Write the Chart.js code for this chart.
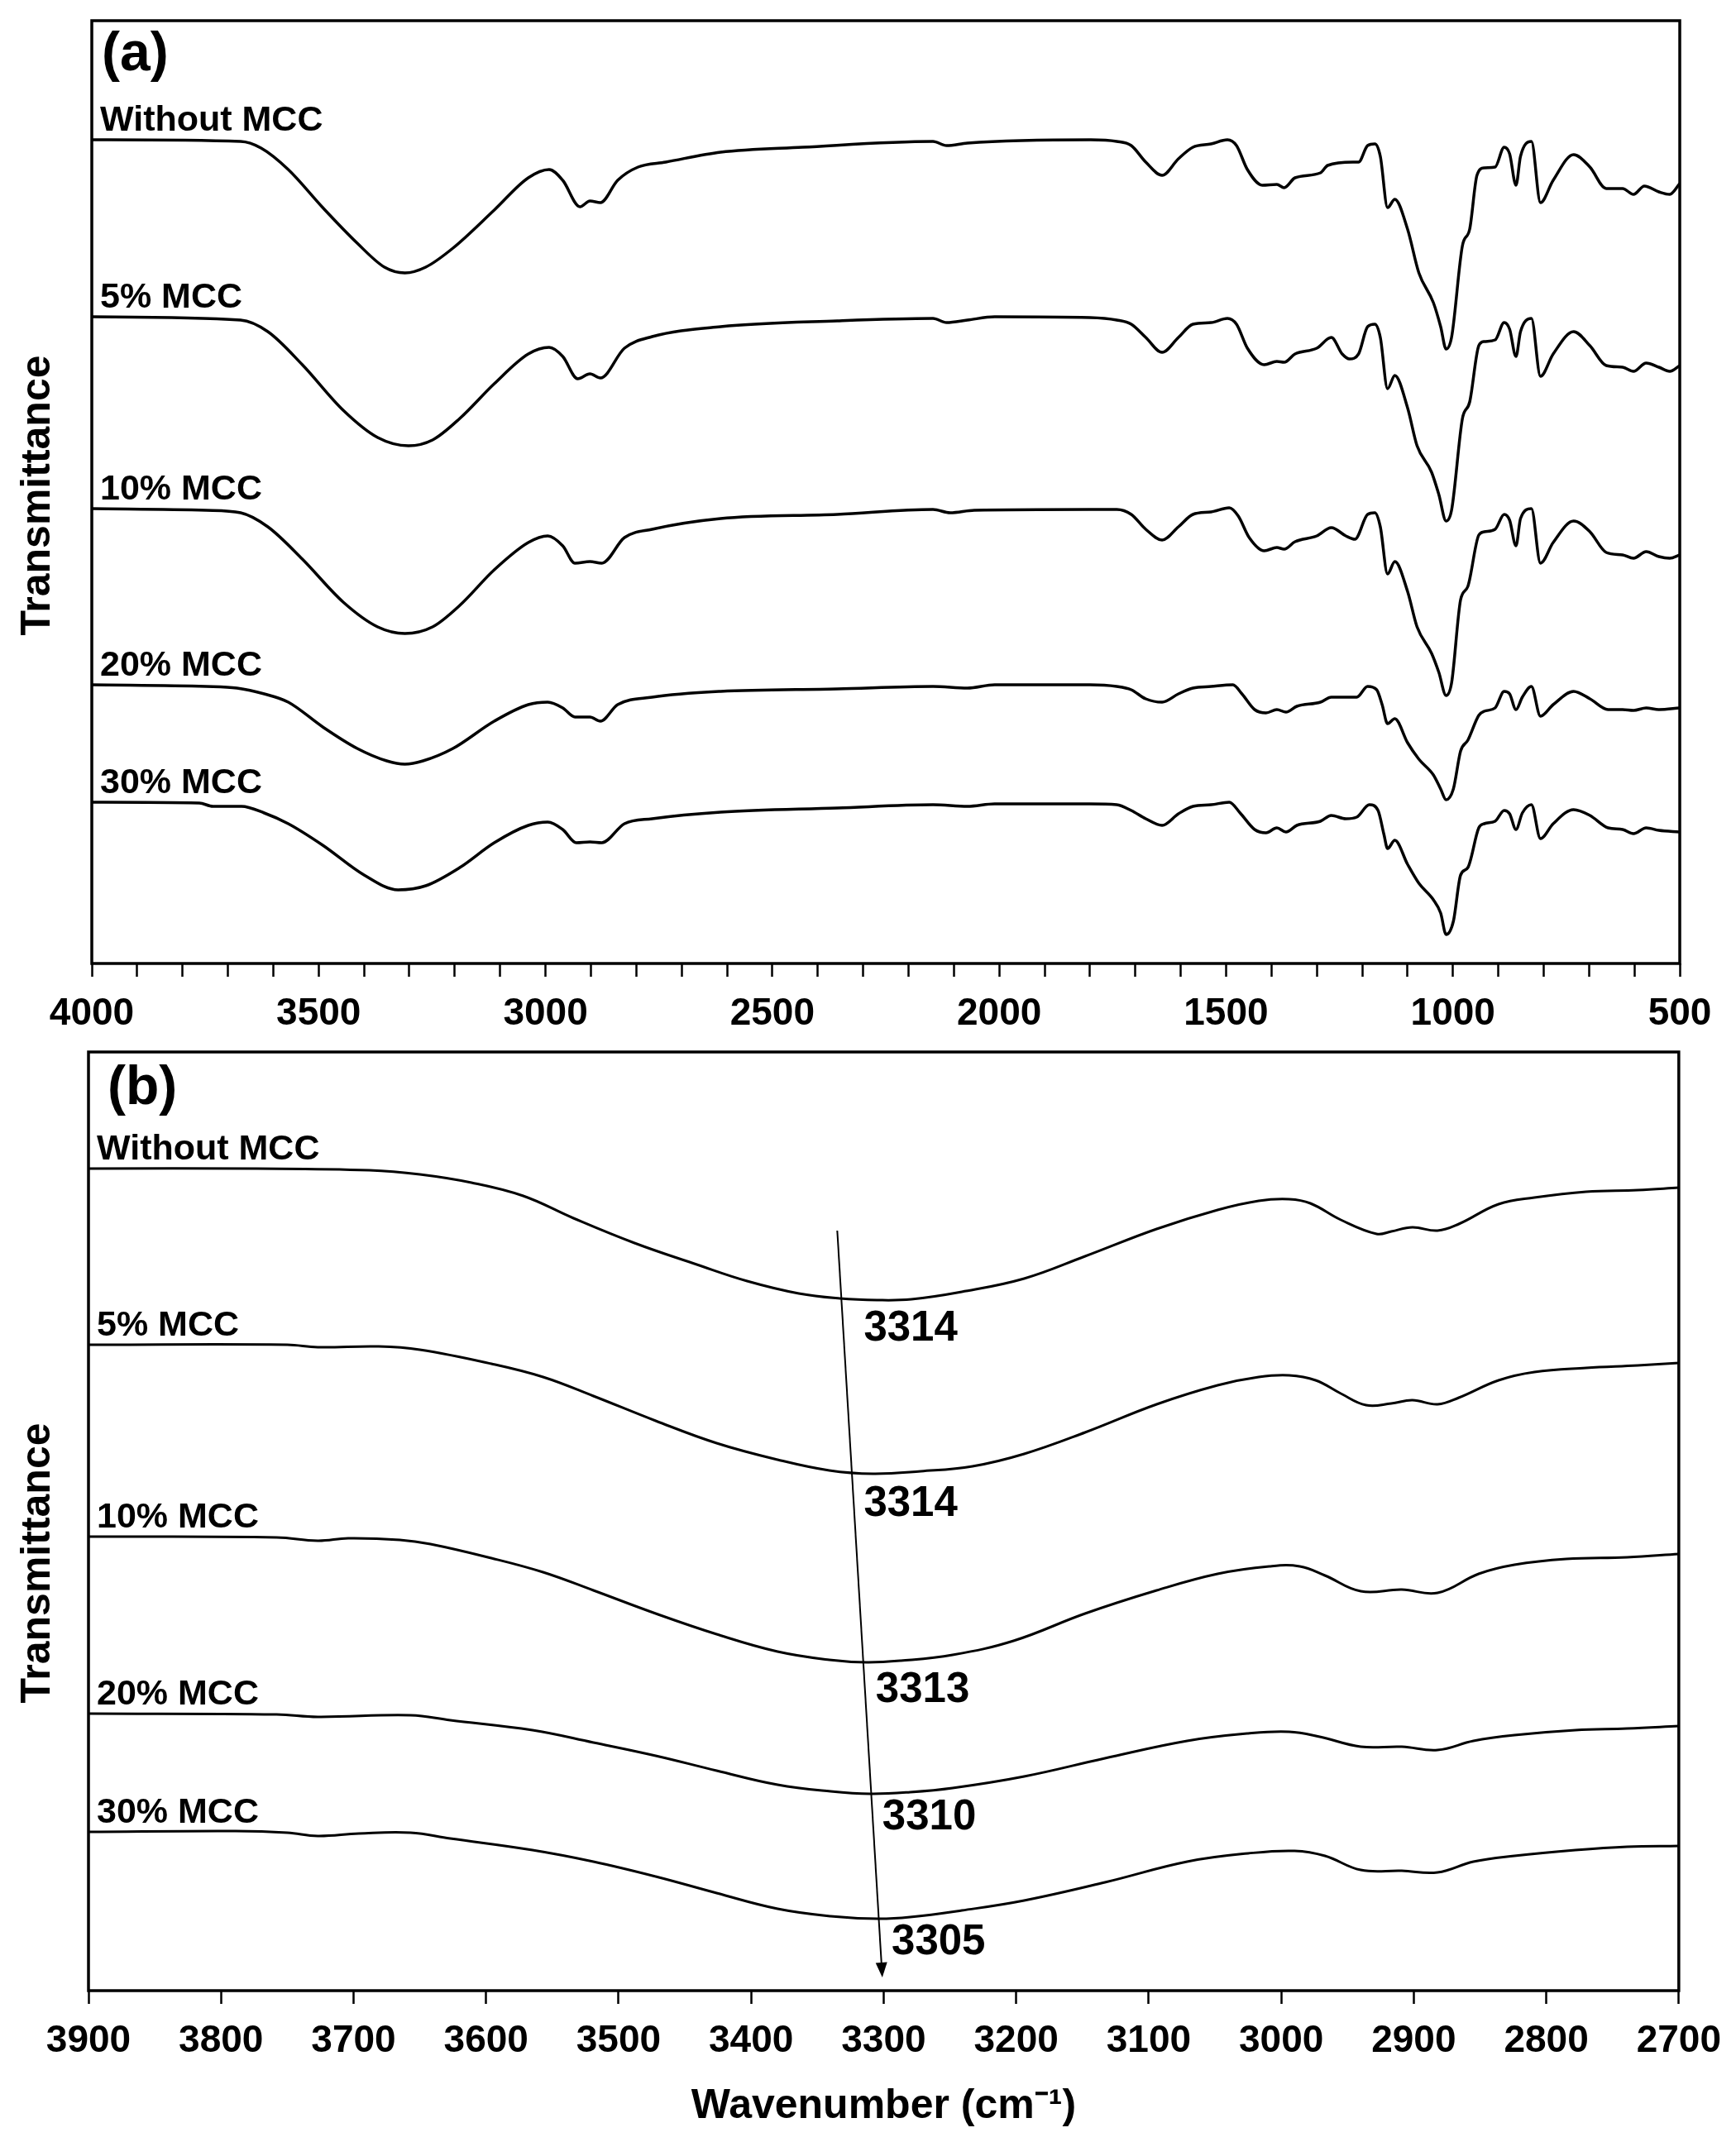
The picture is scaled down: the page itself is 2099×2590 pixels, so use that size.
<!DOCTYPE html>
<html>
<head>
<meta charset="utf-8">
<script src="https://cdn.jsdelivr.net/npm/chart.js@4.4.1/dist/chart.umd.min.js"></script>
<style>
body{margin:0;background:#fff;}
#wrap{position:relative;width:2099px;height:2590px;background:#fff;}
canvas{position:absolute;left:0;}
</style>
</head>
<body>
<div id="wrap">
<canvas id="chartA" width="2099" height="1260" style="top:0px"></canvas>
<canvas id="chartB" width="2099" height="1330" style="top:1260px"></canvas>
</div>
<script>
'use strict';

// sample names, top to bottom
let sampleNames=['Without MCC','5% MCC','10% MCC','20% MCC','30% MCC']

// panel (a): [wavenumber, transmittance a.u.]
let specA0=[[4000,99.6],[3672,99.4],[3627,98.6],[3567,96.0],[3491,91.4],[3415,87.1],[3355,84.2],[3310,83.5],[3264,84.2],[3204,86.5],[3113,91.1],[3038,95.0],[2992,96.0],[2962,94.7],[2924,91.5],[2902,92.2],[2879,92.0],[2841,94.7],[2796,96.3],[2735,96.9],[2614,98.1],[2433,98.7],[2146,99.4],[2116,98.9],[2070,99.2],[1798,99.6],
[1741,99.4],[1709,98.9],[1677,96.9],[1641,95.3],[1605,97.3],[1573,98.7],[1533,99.1],[1497,99.6],[1477,98.9],[1453,96.0],[1420,94.1],[1388,94.2],[1372,93.8],[1348,95.0],[1292,95.6],[1276,96.5],[1220,96.9],[1208,96.9],[1188,98.9],[1172,99.1],[1160,97.6],[1144,91.4],[1128,92.4],[1100,88.8],[1075,83.5],[1043,79.9],[1027,77.0],[1015,74.3],[1003,75.7],[979,86.8],[963,88.8],[947,95.3],[931,96.2],[907,96.3],[887,98.7],[875,97.9],[861,94.1],[851,97.6],[827,99.4],[807,92.0],[779,94.7],[734,97.8],[698,96.3],[662,93.7],[626,93.7],[602,93.0],[578,94.0],[546,93.3],[522,93.0],[500,94.3]]
let specA5=[[4000,78.2],[3672,77.8],[3612,76.4],[3536,72.4],[3446,66.9],[3370,63.6],[3302,62.6],[3249,63.3],[3189,65.9],[3113,70.1],[3038,73.7],[2992,74.5],[2962,73.4],[2929,70.7],[2902,71.3],[2879,70.8],[2826,74.4],[2765,75.8],[2614,77.0],[2357,77.7],[2146,78.0],[2116,77.5],[2070,77.8],[2010,78.2],[1800,78.1],
[1741,77.8],[1709,77.3],[1677,75.7],[1641,73.9],[1605,75.7],[1573,77.3],[1533,77.5],[1497,78.0],[1477,77.3],[1453,74.4],[1416,72.4],[1388,72.8],[1372,72.7],[1348,73.7],[1300,74.4],[1268,75.7],[1244,73.7],[1228,73.1],[1208,73.7],[1188,77.0],[1172,77.3],[1160,75.7],[1144,69.5],[1128,71.1],[1100,67.2],[1079,62.6],[1047,59.4],[1031,56.7],[1015,53.5],[1003,54.8],[979,65.9],[963,67.9],[943,74.7],[931,75.2],[907,75.4],[887,77.5],[875,76.7],[861,73.4],[851,76.4],[827,78.0],[807,71.0],[779,73.7],[734,76.4],[698,74.7],[662,72.3],[626,72.1],[602,71.6],[574,72.6],[546,72.1],[522,71.6],[500,72.3]]
let specA10=[[4000,55.0],[3748,54.8],[3672,54.5],[3612,52.8],[3536,48.9],[3446,43.7],[3370,40.7],[3310,39.9],[3249,40.7],[3189,43.3],[3113,47.6],[3038,50.9],[2995,51.7],[2962,50.5],[2935,48.4],[2902,48.6],[2876,48.4],[2826,51.5],[2765,52.5],[2614,53.8],[2357,54.3],[2146,54.9],[2108,54.5],[2055,54.8],[1800,54.9],
[1741,54.9],[1709,54.3],[1677,52.5],[1641,51.2],[1605,52.8],[1573,54.3],[1533,54.6],[1493,55.1],[1473,54.1],[1449,51.5],[1416,49.9],[1388,50.3],[1372,50.1],[1348,51.0],[1300,51.7],[1268,52.7],[1236,51.7],[1216,51.3],[1188,54.3],[1172,54.5],[1160,52.8],[1144,47.1],[1128,48.6],[1100,45.0],[1079,40.7],[1047,37.5],[1031,35.2],[1015,32.4],[1003,33.9],[983,44.0],[967,45.6],[943,51.8],[931,52.2],[907,52.5],[887,54.3],[875,53.6],[861,50.5],[851,53.8],[827,55.0],[807,48.4],[779,50.9],[734,53.5],[698,52.2],[662,49.7],[626,49.4],[602,49.0],[574,49.8],[546,49.2],[522,49.0],[500,49.4]]
let specA20=[[4000,33.7],[3748,33.5],[3680,33.3],[3620,32.6],[3567,31.6],[3491,28.6],[3415,26.0],[3350,24.5],[3310,24.1],[3270,24.5],[3204,26.0],[3113,29.3],[3038,31.3],[2995,31.6],[2962,30.9],[2935,29.8],[2902,29.8],[2879,29.3],[2841,31.3],[2765,32.2],[2614,32.9],[2357,33.2],[2146,33.5],[2070,33.3],[2010,33.7],[1800,33.7],
[1741,33.5],[1709,33.1],[1677,32.0],[1641,31.6],[1605,32.6],[1573,33.3],[1533,33.5],[1485,33.7],[1465,32.6],[1437,30.7],[1412,30.3],[1388,30.7],[1368,30.4],[1344,31.1],[1292,31.6],[1268,32.2],[1236,32.2],[1212,32.2],[1188,33.5],[1168,33.1],[1156,31.3],[1144,29.0],[1128,29.6],[1100,26.7],[1075,24.7],[1043,22.8],[1027,21.1],[1015,19.8],[999,21.1],[983,25.7],[967,27.0],[943,30.0],[931,30.5],[907,30.9],[887,32.9],[875,32.6],[861,30.7],[847,32.2],[827,33.5],[807,29.9],[779,31.3],[734,32.9],[698,32.0],[658,30.7],[626,30.7],[602,30.6],[574,30.9],[546,30.7],[500,30.9]]
let specA30=[[4000,19.5],[3763,19.4],[3733,19.0],[3670,19.0],[3620,18.2],[3567,16.9],[3491,14.3],[3400,10.7],[3325,8.9],[3264,9.4],[3189,11.6],[3113,14.6],[3038,16.7],[2995,17.1],[2962,16.2],[2932,14.6],[2902,14.7],[2876,14.6],[2826,16.9],[2765,17.5],[2614,18.3],[2357,18.8],[2146,19.2],[2070,19.0],[2010,19.3],[1800,19.3],
[1741,19.2],[1709,18.5],[1677,17.5],[1641,16.7],[1605,18.1],[1573,19.0],[1533,19.2],[1493,19.5],[1469,18.2],[1437,16.2],[1412,15.8],[1388,16.4],[1368,15.9],[1344,16.7],[1292,17.2],[1268,17.9],[1236,17.5],[1212,17.7],[1184,19.2],[1165,18.5],[1152,15.6],[1144,13.9],[1128,14.9],[1100,12.0],[1075,9.7],[1043,7.7],[1027,6.1],[1015,3.5],[999,5.1],[983,10.7],[967,11.6],[943,16.4],[931,16.9],[907,17.2],[887,18.5],[875,18.1],[861,16.2],[847,18.2],[827,19.2],[807,15.1],[779,16.9],[734,18.6],[698,17.9],[658,16.4],[626,16.2],[602,15.7],[574,16.4],[546,16.1],[500,15.9]]

// panel (b): O-H region
let specB0=[[3900,99.4],[3773,99.4],[3688,99.2],[3650,98.7],[3611,97.7],[3572,96.1],[3534,93.4],[3488,90.4],[3441,87.8],[3403,85.8],[3364,84.3],[3333,83.7],[3305,83.5],[3279,83.6],[3241,84.5],[3194,86.1],[3148,88.8],[3094,92.1],[3048,94.4],[3017,95.5],[2994,95.7],[2978,95.2],[2955,93.2],[2928,91.5],[2917,91.8],[2901,92.3],[2882,91.9],[2866,92.7],[2836,95.1],[2809,95.9],[2770,96.6],[2731,96.8],[2700,97.1]]
let specB5=[[3900,78.1],[3750,78.1],[3727,77.8],[3681,77.9],[3650,77.5],[3596,75.8],[3557,74.2],[3519,71.9],[3472,68.9],[3426,66.2],[3380,64.2],[3341,62.9],[3308,62.5],[3272,62.8],[3233,63.4],[3194,64.9],[3148,67.5],[3094,70.9],[3048,73.2],[3017,74.2],[2994,74.4],[2974,73.8],[2955,72.2],[2936,70.8],[2917,71.0],[2901,71.4],[2882,70.9],[2866,71.7],[2836,73.8],[2809,74.8],[2770,75.3],[2731,75.6],[2700,75.9]]
let specB10=[[3900,54.9],[3758,54.8],[3727,54.4],[3704,54.7],[3665,54.5],[3642,54.0],[3596,52.3],[3557,50.6],[3519,48.4],[3472,45.6],[3426,43.1],[3380,41.0],[3341,40.0],[3313,39.7],[3287,39.9],[3248,40.6],[3202,42.3],[3148,45.6],[3094,48.4],[3048,50.4],[3009,51.3],[2986,51.3],[2967,50.2],[2940,48.3],[2909,48.5],[2882,48.1],[2851,50.4],[2824,51.5],[2785,52.2],[2739,52.4],[2700,52.8]]
let specB20=[[3900,33.5],[3758,33.4],[3727,33.1],[3657,33.3],[3627,32.7],[3565,31.5],[3519,30.0],[3472,28.4],[3426,26.6],[3380,24.9],[3340,24.1],[3310,23.8],[3280,24.0],[3248,24.5],[3194,25.9],[3133,28.1],[3071,30.2],[3025,31.1],[2994,31.3],[2971,30.7],[2940,29.5],[2909,29.5],[2882,29.1],[2855,30.2],[2824,30.9],[2778,31.5],[2739,31.7],[2700,32.0]]
let specB30=[[3900,19.2],[3789,19.3],[3750,19.1],[3727,18.7],[3696,19.0],[3657,19.1],[3627,18.4],[3565,17.0],[3519,15.6],[3472,13.8],[3426,11.8],[3380,9.9],[3340,9.0],[3305,8.7],[3280,8.9],[3241,9.7],[3194,10.9],[3133,13.1],[3071,15.6],[3025,16.6],[2990,16.9],[2967,16.3],[2940,14.6],[2909,14.5],[2882,14.3],[2855,15.6],[2824,16.3],[2778,17.0],[2739,17.4],[2700,17.5]]

// O-H band minima marked in (b)
let peakText=['3314','3314','3313','3310','3305']
let peakWn=[3315,3315,3306,3301,3294]
let peakT=[80.0,58.8,36.3,20.9,5.8]
let arrowFrom=[3335,91.9]
let arrowTo=[3301,1.6]

let fontFam="'Liberation Sans', Arial, Helvetica, sans-serif"

function toPts(arr)
{
    return arr.map(p => ({x:p[0], y:p[1]}))
}

function makeSets(list,width,smooth)
{
    let sets=[]
    for(let i=0;i<list.length;i++)
    {
        let s={
            label:sampleNames[i],
            data:toPts(list[i]),
            borderColor:'#000',
            borderWidth:width,
            pointRadius:0,
            fill:false
        }
        if(smooth) s.tension=0.4
        else s.cubicInterpolationMode='monotone'
        sets.push(s)
    }
    return sets
}

let decor={
    id:'decor',
    afterDraw(chart,args,opts)
    {
        let ctx=chart.ctx
        let area=chart.chartArea
        let xs=chart.scales.x
        let ys=chart.scales.y
        ctx.save()
        ctx.strokeStyle='#000'
        ctx.lineWidth=3.5
        ctx.strokeRect(area.left,area.top,area.right-area.left,area.bottom-area.top)

        ctx.fillStyle='#000'
        ctx.textAlign='left'
        ctx.textBaseline='alphabetic'
        ctx.font='bold 66px '+fontFam
        ctx.fillText(opts.letter,area.left+opts.letterDx,area.top+opts.letterDy)

        ctx.font='bold 43px '+fontFam
        let sets=chart.data.datasets
        for(let i=0;i<sets.length;i++)
        {
            let y0=sets[i].data[0].y
            ctx.fillText(sets[i].label,area.left+10,ys.getPixelForValue(y0)-11)
        }

        ctx.save()
        ctx.translate(46,opts.titleY)
        ctx.rotate(-Math.PI/2)
        ctx.textAlign='center'
        ctx.textBaseline='middle'
        ctx.font='bold 50px '+fontFam
        ctx.fillText('Transmittance',0,0)
        ctx.restore()

        if(opts.peaks)
        {
            ctx.font='bold 51px '+fontFam
            ctx.textBaseline='middle'
            for(let i=0;i<peakText.length;i++)
            {
                ctx.fillText(peakText[i],xs.getPixelForValue(peakWn[i]),ys.getPixelForValue(peakT[i]))
            }
            let x1=xs.getPixelForValue(arrowFrom[0]), y1=ys.getPixelForValue(arrowFrom[1])
            let x2=xs.getPixelForValue(arrowTo[0]), y2=ys.getPixelForValue(arrowTo[1])
            let ang=Math.atan2(y2-y1,x2-x1)
            let head=18
            ctx.lineWidth=2
            ctx.beginPath()
            ctx.moveTo(x1,y1)
            ctx.lineTo(x2-Math.cos(ang)*head,y2-Math.sin(ang)*head)
            ctx.stroke()
            ctx.beginPath()
            ctx.moveTo(x2,y2)
            ctx.lineTo(x2-Math.cos(ang)*head+Math.sin(ang)*7,y2-Math.sin(ang)*head-Math.cos(ang)*7)
            ctx.lineTo(x2-Math.cos(ang)*head-Math.sin(ang)*7,y2-Math.sin(ang)*head+Math.cos(ang)*7)
            ctx.closePath()
            ctx.fill()
        }
        ctx.restore()
    }
}

function makeChart(id,sets,xmin,xmax,every,opts)
{
    return new Chart(document.getElementById(id),{
        type:'line',
        data:{datasets:sets},
        options:{
            responsive:false,
            animation:false,
            devicePixelRatio:1,
            layout:{padding:{top:opts.top,left:0,right:0,bottom:0}},
            plugins:{legend:{display:false},tooltip:{enabled:false},decor:opts.decor},
            scales:{
                x:{
                    type:'linear',
                    min:xmin,
                    max:xmax,
                    reverse:true,
                    ticks:{
                        stepSize:100,
                        maxTicksLimit:100,
                        autoSkip:false,
                        maxRotation:0,
                        padding:18,
                        color:'#000',
                        font:{family:fontFam,size:46,weight:'bold'},
                        callback:function(v){ return v%every===0 ? String(v) : '' }
                    },
                    grid:{display:true,drawOnChartArea:false,drawTicks:true,tickLength:16,tickColor:'#000',tickWidth:2.5},
                    border:{display:false},
                    title:opts.xTitle,
                    afterFit:function(s){ s.height=opts.bottomH }
                },
                y:{
                    min:0,
                    max:opts.ymax,
                    ticks:{display:false},
                    grid:{display:false},
                    border:{display:false},
                    afterFit:function(s){ s.width=opts.leftW }
                },
                y2:{
                    position:'right',
                    min:0,
                    max:1,
                    ticks:{display:false},
                    grid:{display:false},
                    border:{display:false},
                    afterFit:function(s){ s.width=68 }
                }
            }
        },
        plugins:[decor]
    })
}

makeChart('chartA',makeSets([specA0,specA5,specA10,specA20,specA30],3.5,false),500,4000,500,{
    top:25, bottomH:95, leftW:111, ymax:114,
    xTitle:{display:false},
    decor:{letter:'(a)',letterDx:12,letterDy:60,titleY:599,peaks:false}
})

makeChart('chartB',makeSets([specB0,specB5,specB10,specB20,specB30],3,true),2700,3900,100,{
    top:12, bottomH:183, leftW:107, ymax:113.5,
    xTitle:{display:true,text:'Wavenumber (cm\u207B\u00B9)',color:'#000',font:{family:fontFam,size:50,weight:'bold'},padding:{top:0,bottom:13}},
    decor:{letter:'(b)',letterDx:23,letterDy:63,titleY:630,peaks:true}
})
</script>
</body>
</html>
